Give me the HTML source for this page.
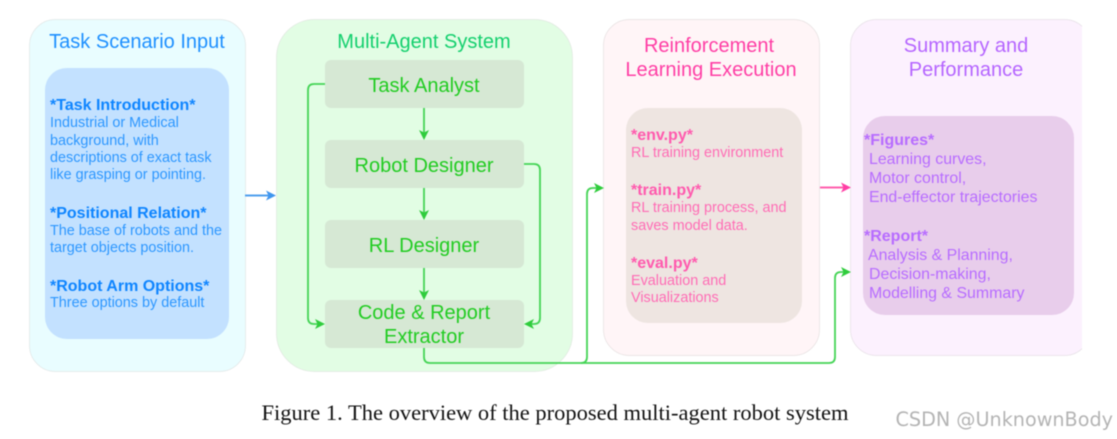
<!DOCTYPE html>
<html><head><meta charset="utf-8"><style>
html,body{margin:0;padding:0;background:#fff}
svg{display:block;filter:blur(.4px)}
text{font-family:"Liberation Sans",sans-serif}
.t{font-size:20px}
.n{font-size:20px;fill:#22cc22;text-anchor:middle}
.h{font-size:16px;font-weight:bold}
.b{font-size:14.4px}
.p{font-size:15.9px}
.c{text-anchor:middle}
.g{fill:none;stroke:#44d455;stroke-width:1.8}
</style></head><body>
<svg width="1117" height="439" viewBox="0 0 1117 439" xmlns="http://www.w3.org/2000/svg">
<defs><clipPath id="cp"><rect x="0" y="0" width="1082" height="439"/></clipPath></defs>
<rect x="29.500" y="19.500" width="216" height="352" rx="26" fill="#e9fdff" stroke="#e0e6e6" stroke-width=".7"/>
<rect x="276.500" y="19.500" width="296" height="352" rx="38" fill="#e2fde4" stroke="#e0e8e0" stroke-width=".7"/>
<rect x="603.500" y="19.500" width="216" height="336" rx="26" fill="#fff5f7" stroke="#e6e0e0" stroke-width=".7"/>
<g clip-path="url(#cp)"><rect x="850.500" y="19.500" width="240" height="336" rx="26" fill="#fcf1fe" stroke="#e6e0e6" stroke-width=".7"/></g>

<rect x="45" y="68" width="184" height="271" rx="22" fill="#c3e1ff"/>
<rect x="626" y="108" width="176" height="215" rx="22" fill="#eee5e1"/>
<rect x="863" y="116" width="211" height="199" rx="22" fill="#e8cdeb"/>

<rect x="325" y="60" width="199" height="48" rx="6" fill="#d6e8d4"/>
<rect x="325" y="140" width="199" height="48" rx="6" fill="#d6e8d4"/>
<rect x="325" y="220" width="199" height="48" rx="6" fill="#d6e8d4"/>
<rect x="325" y="300" width="199" height="48" rx="6" fill="#d6e8d4"/>

<text class="t c" x="137" y="48" fill="#1e90ff">Task Scenario Input</text>
<text class="t c" x="424" y="48" fill="#14d06e">Multi-Agent System</text>
<text class="t c" x="709" y="52" fill="#ff3ea5">Reinforcement</text>
<text class="t c" x="711" y="76" fill="#ff3ea5">Learning Execution</text>
<text class="t c" x="966" y="52" fill="#b565ff">Summary and</text>
<text class="t c" x="966" y="76" fill="#b565ff">Performance</text>

<text class="n" x="424" y="92">Task Analyst</text>
<text class="n" x="424" y="172">Robot Designer</text>
<text class="n" x="424" y="252">RL Designer</text>
<text class="n" x="424" y="319">Code &amp; Report</text>
<text class="n" x="424" y="343">Extractor</text>

<g fill="#2d97ff">
<text class="h" x="50" y="110" fill="#0f85ff">*Task Introduction*</text>
<text class="b" x="50" y="127">Industrial or Medical</text>
<text class="b" x="50" y="145">background, with</text>
<text class="b" x="50" y="162">descriptions of exact task</text>
<text class="b" x="50" y="179">like grasping or pointing.</text>
<text class="h" x="50" y="218" fill="#0f85ff">*Positional Relation*</text>
<text class="b" x="50" y="235">The base of robots and the</text>
<text class="b" x="50" y="252">target objects position.</text>
<text class="h" x="50" y="291" fill="#0f85ff">*Robot Arm Options*</text>
<text class="b" x="50" y="307">Three options by default</text>
</g>

<g fill="#ff6cb5">
<text class="h" x="631" y="140" fill="#ff5aae">*env.py*</text>
<text class="b" x="631" y="157">RL training environment</text>
<text class="h" x="631" y="195" fill="#ff5aae">*train.py*</text>
<text class="b" x="631" y="212">RL training process, and</text>
<text class="b" x="631" y="230">saves model data.</text>
<text class="h" x="631" y="268" fill="#ff5aae">*eval.py*</text>
<text class="b" x="631" y="285">Evaluation and</text>
<text class="b" x="631" y="302">Visualizations</text>
</g>

<g fill="#b76cff">
<text class="h" x="864" y="145">*Figures*</text>
<text class="p" x="869" y="164">Learning curves,</text>
<text class="p" x="869" y="183">Motor control,</text>
<text class="p" x="869" y="202">End-effector trajectories</text>
<text class="h" x="864" y="241">*Report*</text>
<text class="p" x="868" y="260">Analysis &amp; Planning,</text>
<text class="p" x="869" y="279">Decision-making,</text>
<text class="p" x="869" y="298">Modelling &amp; Summary</text>
</g>

<!-- connectors -->
<path d="M245 195.500H270" fill="none" stroke="#4f9fee" stroke-width="2"/>
<path d="M276 195.500L266 190.500L268.500 195.500L266 200.500Z" fill="#3f95ee"/>

<path class="g" d="M424 108V134"/>
<path d="M424 140L419 130L424 132.500L429 130Z" fill="#2fcc3c"/>
<path class="g" d="M424 188V214"/>
<path d="M424 220L419 210L424 212.500L429 210Z" fill="#2fcc3c"/>
<path class="g" d="M424 268V294"/>
<path d="M424 300L419 290L424 292.500L429 290Z" fill="#2fcc3c"/>

<path class="g" d="M325 84H314Q308 84 308 90V318Q308 324 314 324H319"/>
<path d="M325 324L315 319L317.500 324L315 329Z" fill="#2fcc3c"/>
<path class="g" d="M524 164H534Q540 164 540 170V318Q540 324 534 324H530"/>
<path d="M524 324L534 319L531.500 324L534 329Z" fill="#2fcc3c"/>

<path class="g" d="M424 348V357Q424 363 430 363H581Q587 363 587 357V194Q587 188 593 188H598"/>
<path d="M604 188L594 183L596.500 188L594 193Z" fill="#2fcc3c"/>
<path class="g" d="M581 363H829Q835 363 835 357V278Q835 272 841 272H845"/>
<path d="M851 272L841 267L843.500 272L841 277Z" fill="#2fcc3c"/>

<path d="M820 187.500H845" fill="none" stroke="#ff5fae" stroke-width="2"/>
<path d="M851 187.500L841 182.500L843.500 187.500L841 192.500Z" fill="#ff3ea5"/>

<text x="555" y="420" text-anchor="middle" style="font-family:'Liberation Serif',serif;font-size:22.500px" fill="#111">Figure 1. The overview of the proposed multi-agent robot system</text>
<text x="1113" y="426" text-anchor="end" style="font-family:'DejaVu Sans',sans-serif;font-size:19.200px" fill="#b4b4b4">CSDN @UnknownBody</text>
</svg>
</body></html>
